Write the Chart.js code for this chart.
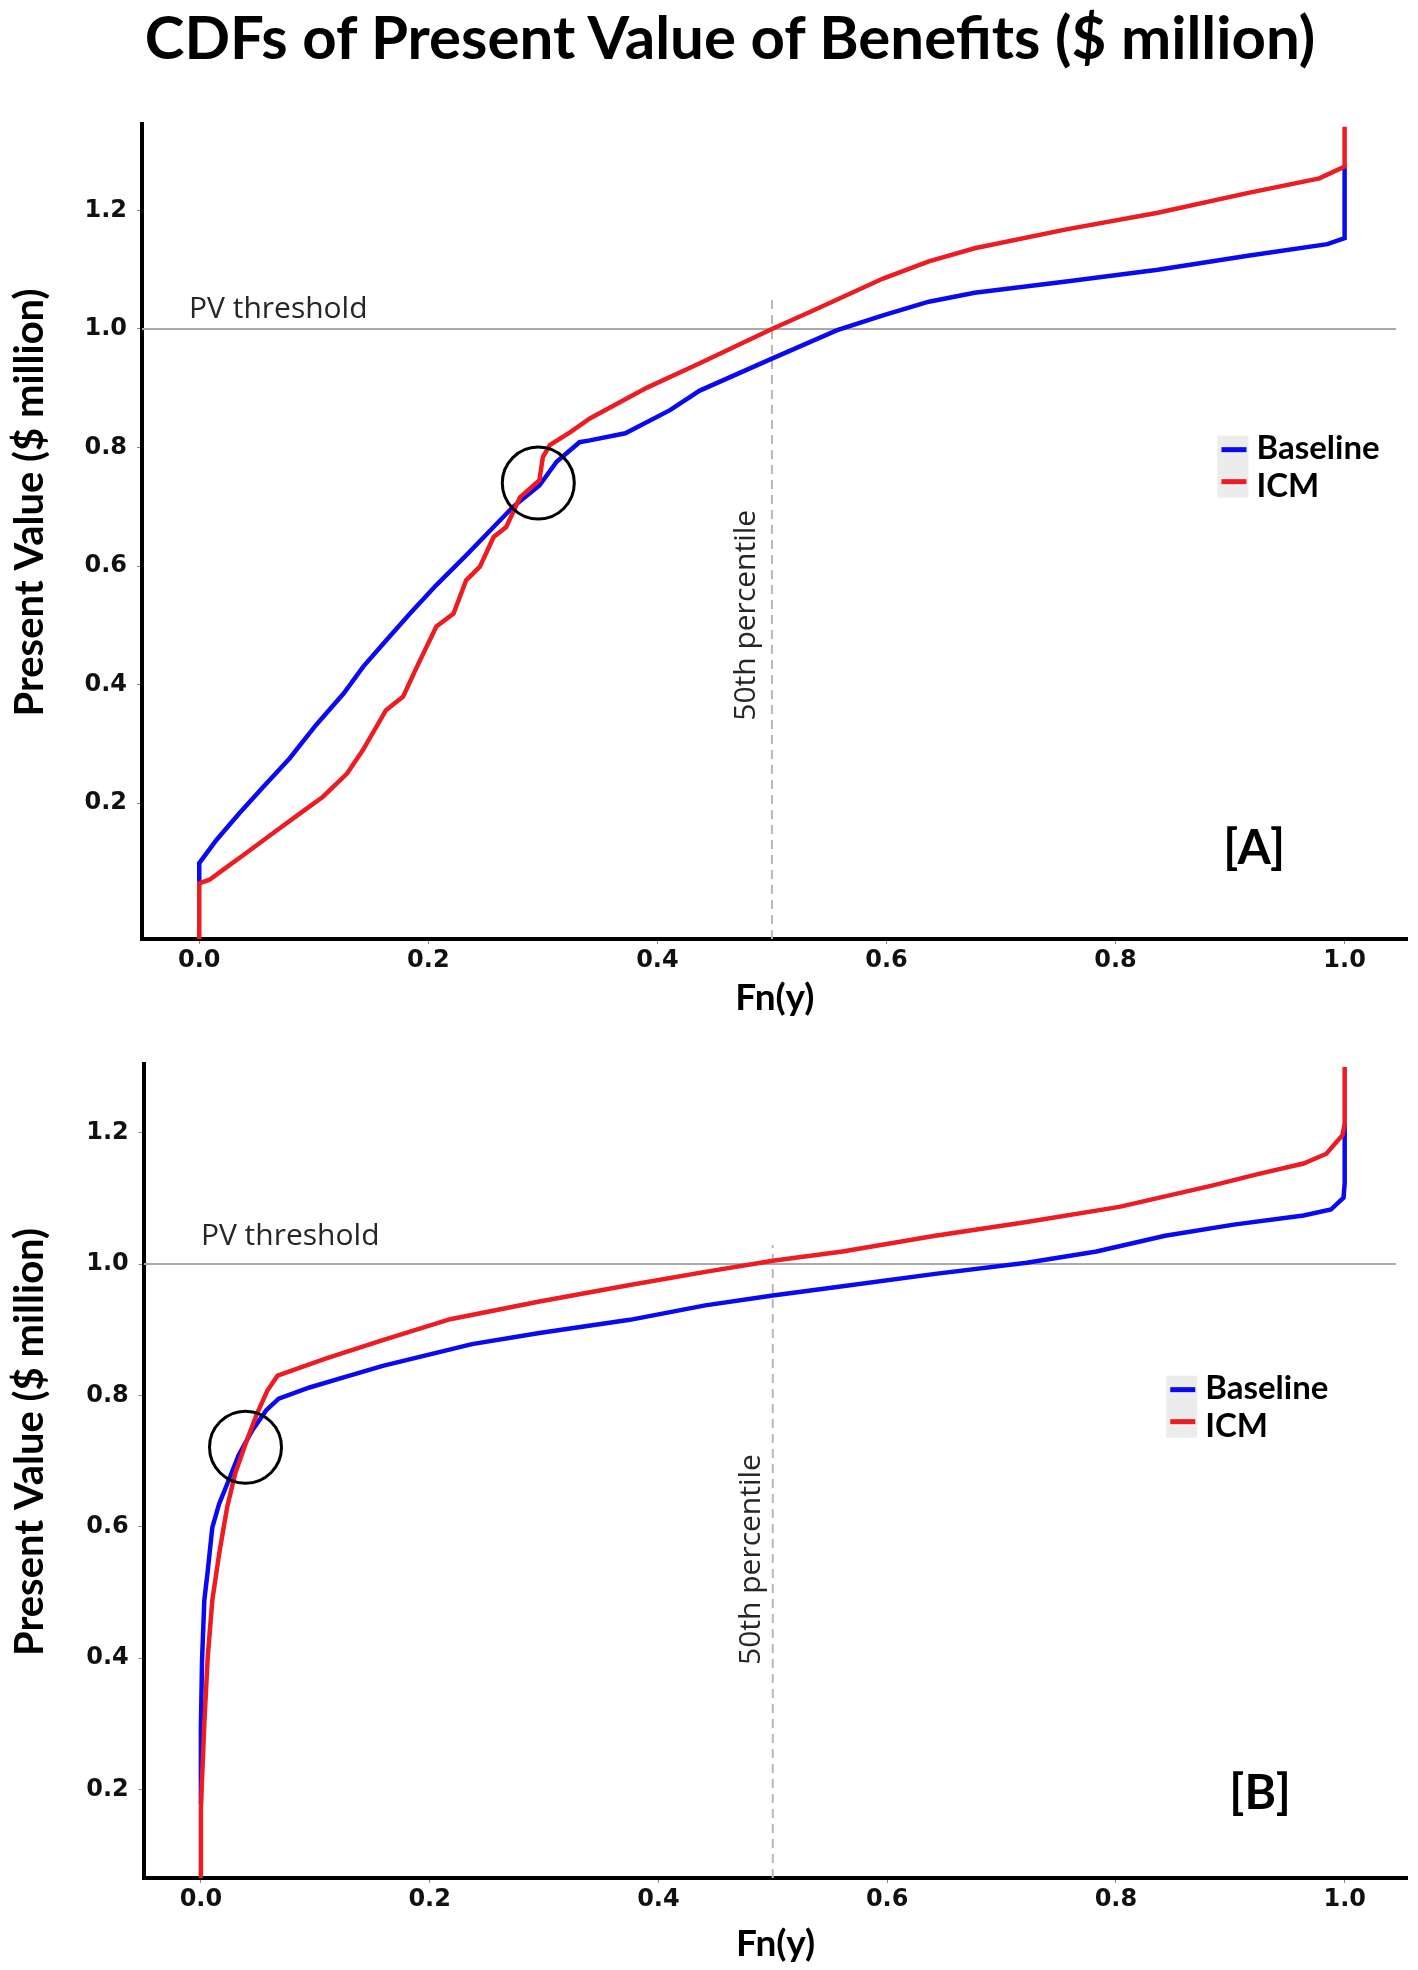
<!DOCTYPE html>
<html>
<head>
<meta charset="utf-8">
<script src="https://cdn.jsdelivr.net/npm/chart.js@4.4.1/dist/chart.umd.min.js"></script>
<style>
  body { margin: 0; background: #fff; width: 1418px; height: 1970px; position: relative; overflow: hidden; }
  #title { position: absolute; left: 0; top: 6px; width: 1460px; text-align: center;
           font: 700 60px/60px Lato, sans-serif; color: #000; white-space: nowrap; }
  canvas { position: absolute; left: 0; }
</style>
</head>
<body>
<div id="title">CDFs of Present Value of Benefits ($ million)</div>
<canvas id="chartA" width="1418" height="924" style="top:100px"></canvas>
<canvas id="chartB" width="1418" height="930" style="top:1040px"></canvas>
<script>
// panel A
const aBaseX = [0, 0, 0.015, 0.035, 0.056, 0.079, 0.102, 0.126, 0.143, 0.161, 0.184, 0.207, 0.233, 0.254, 0.274, 0.297, 0.312, 0.332, 0.341, 0.372, 0.411, 0.437, 0.5, 0.557, 0.597, 0.637, 0.677, 0.757, 0.837, 0.917, 0.985, 1.0, 1.0];
const aBaseY = [0.065, 0.099, 0.138, 0.183, 0.228, 0.276, 0.332, 0.385, 0.430, 0.470, 0.520, 0.568, 0.618, 0.660, 0.700, 0.736, 0.776, 0.809, 0.812, 0.824, 0.863, 0.896, 0.950, 0.998, 1.023, 1.046, 1.061, 1.080, 1.100, 1.124, 1.143, 1.153, 1.274];
const aIcmX = [0, 0, 0.009, 0.021, 0.041, 0.064, 0.088, 0.108, 0.129, 0.143, 0.163, 0.178, 0.190, 0.207, 0.222, 0.233, 0.245, 0.257, 0.268, 0.280, 0.297, 0.300, 0.306, 0.324, 0.341, 0.391, 0.437, 0.5, 0.537, 0.597, 0.637, 0.677, 0.757, 0.837, 0.917, 0.978, 1.0, 1.0];
const aIcmY = [-0.03, 0.065, 0.071, 0.088, 0.116, 0.149, 0.183, 0.211, 0.250, 0.290, 0.357, 0.380, 0.430, 0.498, 0.520, 0.576, 0.599, 0.649, 0.666, 0.716, 0.745, 0.784, 0.804, 0.826, 0.849, 0.901, 0.942, 1.0, 1.032, 1.085, 1.114, 1.136, 1.168, 1.196, 1.230, 1.254, 1.274, 1.341];

// panel B
const bBaseX = [0, 0, 0.001, 0.003, 0.006, 0.010, 0.016, 0.023, 0.033, 0.045, 0.057, 0.068, 0.095, 0.124, 0.159, 0.237, 0.296, 0.375, 0.441, 0.5, 0.561, 0.642, 0.722, 0.783, 0.843, 0.903, 0.964, 0.988, 0.999, 1.0, 1.0];
const bBaseY = [0.178, 0.295, 0.396, 0.488, 0.533, 0.599, 0.635, 0.665, 0.709, 0.747, 0.777, 0.795, 0.812, 0.827, 0.845, 0.878, 0.895, 0.915, 0.937, 0.952, 0.966, 0.985, 1.002, 1.019, 1.043, 1.060, 1.074, 1.083, 1.101, 1.124, 1.213];
const bIcmX = [0, 0, 0.003, 0.006, 0.010, 0.016, 0.023, 0.030, 0.039, 0.049, 0.058, 0.067, 0.080, 0.109, 0.159, 0.218, 0.296, 0.375, 0.441, 0.5, 0.561, 0.642, 0.722, 0.803, 0.883, 0.924, 0.964, 0.984, 0.998, 1.0, 1.0];
const bIcmY = [0.065, 0.173, 0.300, 0.402, 0.488, 0.559, 0.630, 0.681, 0.726, 0.772, 0.807, 0.830, 0.838, 0.856, 0.884, 0.916, 0.943, 0.968, 0.988, 1.005, 1.019, 1.043, 1.064, 1.087, 1.119, 1.137, 1.153, 1.168, 1.196, 1.213, 1.30];

const xTickVals = [0, 0.2, 0.4, 0.6, 0.8, 1.0];
const yTickVals = [0.2, 0.4, 0.6, 0.8, 1.0, 1.2];
const seriesNames = ['Baseline', 'ICM'];
const BLUE = '#0a0af2';
const RED = '#ec1c22';

function toPoints(xs, ys) {
  return xs.map((x, i) => ({ x: x, y: ys[i] }));
}

// labels, circle and legend drawn on top of the plot
const decor = {
  id: 'decor',
  afterDatasetsDraw(chart, args, o) {
    const ctx = chart.ctx;
    const x = chart.scales.x, y = chart.scales.y;
    ctx.save();
    ctx.fillStyle = '#262626';
    ctx.font = '30px "Open Sans"';
    ctx.textAlign = 'left';
    ctx.textBaseline = 'alphabetic';
    ctx.fillText('PV threshold', x.getPixelForValue(o.pvLabel[0]), y.getPixelForValue(o.pvLabel[1]));

    ctx.save();
    ctx.translate(x.getPixelForValue(o.pctLabel[0]), y.getPixelForValue(o.pctLabel[1]));
    ctx.rotate(-Math.PI / 2);
    ctx.textAlign = 'center';
    ctx.textBaseline = 'middle';
    ctx.fillText('50th percentile', 0, 0);
    ctx.restore();

    // highlighted crossing
    ctx.beginPath();
    ctx.arc(x.getPixelForValue(o.circle[0]), y.getPixelForValue(o.circle[1]), 36, 0, Math.PI * 2);
    ctx.lineWidth = 3;
    ctx.strokeStyle = '#000';
    ctx.stroke();

    // panel tag
    ctx.fillStyle = '#000';
    ctx.font = 'bold 48px Lato';
    ctx.textAlign = 'center';
    ctx.textBaseline = 'middle';
    ctx.fillText(o.tag, x.getPixelForValue(o.tagPos[0]), y.getPixelForValue(o.tagPos[1]));

    // legend
    const lx = x.getPixelForValue(o.legend[0]);
    const ly = y.getPixelForValue(o.legend[1]);
    ctx.fillStyle = '#ececec';
    ctx.fillRect(lx, ly, 31, 62);
    ctx.font = 'bold 33px Lato';
    ctx.textAlign = 'left';
    chart.data.datasets.slice(0, 2).forEach((ds, i) => {
      const cy = ly + 14 + i * 32;
      ctx.strokeStyle = ds.borderColor;
      ctx.lineWidth = 5;
      ctx.beginPath();
      ctx.moveTo(lx + 4, cy);
      ctx.lineTo(lx + 29, cy);
      ctx.stroke();
      ctx.fillStyle = '#000';
      ctx.fillText(ds.label, lx + 39, ly + 13 + i * 38);
    });
    ctx.restore();
  }
};

function buildPanel(id, p) {
  return new Chart(document.getElementById(id), {
    type: 'line',
    data: {
      datasets: [
        { label: seriesNames[0], data: toPoints(p.baseX, p.baseY), borderColor: BLUE, borderWidth: 4.5, pointRadius: 0, order: 1 },
        { label: seriesNames[1], data: toPoints(p.icmX, p.icmY), borderColor: RED, borderWidth: 4.5, pointRadius: 0, order: 0 },
        { label: 'threshold', data: [{ x: -0.05, y: 1 }, { x: 1.045, y: 1 }], borderColor: '#a9a9a9', borderWidth: 2, pointRadius: 0, order: 2 },
        { label: 'median', data: [{ x: 0.5, y: p.yMin }, { x: 0.5, y: p.pctTop }], borderColor: '#b8b8b8', borderWidth: 2, borderDash: [9, 6], pointRadius: 0, order: 2 }
      ]
    },
    options: {
      responsive: false,
      animation: false,
      layout: { padding: { top: p.padTop, right: 10.4, left: 0, bottom: 0 } },
      plugins: { legend: { display: false }, tooltip: { enabled: false }, decor: p.decor },
      scales: {
        x: {
          type: 'linear', min: -0.05, max: 1.055,
          afterBuildTicks: s => { s.ticks = xTickVals.map(v => ({ value: v })); },
          afterFit: s => { s.height = p.xAxisH; },
          grid: { drawOnChartArea: false, drawTicks: true, tickLength: 5, color: '#888' },
          border: { display: true, color: '#000', width: 4 },
          ticks: { font: { family: 'DejaVu Sans', weight: 'bold', size: 24 }, color: '#111', padding: 2, maxRotation: 0,
                   callback: v => v.toFixed(1) },
          title: { display: true, text: 'Fn(y)', color: '#000', font: { family: 'Lato', weight: 'bold', size: 37 }, padding: { top: 0, bottom: 4 } }
        },
        y: {
          type: 'linear', min: p.yMin, max: p.yMax,
          afterBuildTicks: s => { s.ticks = yTickVals.map(v => ({ value: v })); },
          afterFit: s => { s.width = p.yAxisW; },
          grid: { drawOnChartArea: false, drawTicks: true, tickLength: 5, color: '#888' },
          border: { display: true, color: '#000', width: 4 },
          ticks: { font: { family: 'DejaVu Sans', weight: 'bold', size: 24 }, color: '#111', padding: 10,
                   callback: v => v.toFixed(1) },
          // leading spaces nudge the rotated title upward like the original
          title: { display: true, text: '      Present Value ($ million)', color: '#000', font: { family: 'Lato', weight: 'bold', size: 40 }, padding: { top: 6, bottom: 0 } }
        }
      }
    },
    plugins: [decor]
  });
}

buildPanel('chartA', {
  baseX: aBaseX, baseY: aBaseY, icmX: aIcmX, icmY: aIcmY,
  yMin: -0.029, yMax: 1.345, pctTop: 1.051,
  padTop: 23, yAxisW: 142, xAxisH: 85,
  decor: { pvLabel: [-0.009, 1.018], pctLabel: [0.478, 0.517], circle: [0.296, 0.74], tag: '[A]', tagPos: [0.921, 0.123], legend: [0.889, 0.82] }
});

buildPanel('chartB', {
  baseX: bBaseX, baseY: bBaseY, icmX: bIcmX, icmY: bIcmY,
  yMin: 0.065, yMax: 1.304, pctTop: 1.029,
  padTop: 23.7, yAxisW: 143.7, xAxisH: 92,
  decor: { pvLabel: [0.0, 1.029], pctLabel: [0.481, 0.55], circle: [0.039, 0.721], tag: '[B]', tagPos: [0.926, 0.194], legend: [0.844, 0.83] }
});
</script>
</body>
</html>
